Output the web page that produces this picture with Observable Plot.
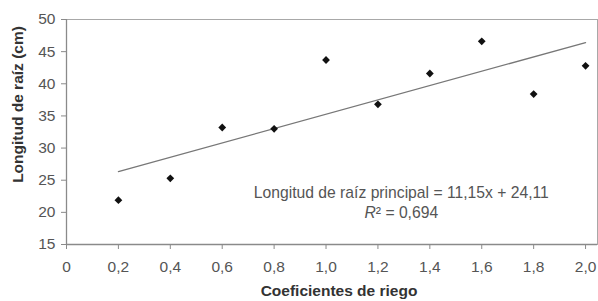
<!DOCTYPE html>
<html>
<head>
<meta charset="utf-8">
<script src="https://cdn.jsdelivr.net/npm/d3@7"></script>
<script src="https://cdn.jsdelivr.net/npm/@observablehq/plot@0.6"></script>
<style>
  html, body { margin: 0; padding: 0; background: #fff; }
  #chart { width: 598px; height: 301px; }
</style>
</head>
<body>
<div id="chart"></div>
<script>
// Data
const coefRiego = [0.2, 0.4, 0.6, 0.8, 1.0, 1.2, 1.4, 1.6, 1.8, 2.0];
const longitudRaiz = [21.9, 25.3, 33.2, 33.0, 43.7, 36.8, 41.6, 46.6, 38.4, 42.8];
// Trend line as printed: y = 11,15x + 24,11
const slope = 11.15;
const intercept = 24.11;
const xTicks = [0, 0.2, 0.4, 0.6, 0.8, 1.0, 1.2, 1.4, 1.6, 1.8, 2.0];
const yTicks = [15, 20, 25, 30, 35, 40, 45, 50];
const xTitle = "Coeficientes de riego";
const yTitle = "Longitud de raíz (cm)";
const eqLabel = "Longitud de raíz principal = 11,15x + 24,11";
const r2Label = "R² = 0,694";
const annotX = [1.29, 1.29];
const annotY = [23.0, 19.9];

const points = coefRiego.map((x, i) => ({x, y: longitudRaiz[i]}));
const trend = [coefRiego[0], coefRiego[coefRiego.length - 1]].map(x => ({x, y: slope * x + intercept}));
const annots = [eqLabel, r2Label].map((t, i) => ({x: annotX[i], y: annotY[i], t}));
const fmt = d => d === 0 ? "0" : d.toFixed(1).replace(".", ",");

const chart = Plot.plot({
  width: 598,
  height: 301,
  marginLeft: 66,
  marginRight: 1,
  marginTop: 19,
  marginBottom: 57,
  style: {fontFamily: "'Liberation Sans', Arial, sans-serif", fontSize: "15.5px", background: "#fff"},
  x: {domain: [0, 2.046]},
  y: {domain: [15, 50]},
  marks: [
    Plot.frame({stroke: "#a8a8a8"}),
    Plot.ruleY([15], {stroke: "#8a8a8a", strokeWidth: 1.3}),
    Plot.ruleX([0], {stroke: "#8a8a8a", strokeWidth: 1.3}),
    Plot.axisX({ticks: xTicks, tickFormat: fmt, tickSize: 5, tickPadding: 11, stroke: "#8a8a8a", fill: "#555", fontSize: 15.5, label: null}),
    Plot.axisY({ticks: yTicks, tickSize: 5, tickPadding: 6, stroke: "#8a8a8a", fill: "#555", fontSize: 15.5, label: null}),
    Plot.line(trend, {x: "x", y: "y", stroke: "#777", strokeWidth: 1.3}),
    Plot.dot(points, {x: "x", y: "y", symbol: "square", rotate: 45, r: 3.1, fill: "#111", stroke: "none"}),
    Plot.text(annots, {x: "x", y: "y", text: "t", fill: "#555", fontSize: 15.7, textAnchor: "middle", className: "annot"}),
    Plot.text([xTitle], {frameAnchor: "bottom", text: d => d, dx: 7, dy: 51, fontWeight: "bold", fill: "#333", fontSize: 15.5}),
    Plot.text([yTitle], {frameAnchor: "left", textAnchor: "middle", text: d => d, fontWeight: "bold", fill: "#333", fontSize: 15.5, className: "ytitle"})
  ]
});

// Position the rotated y-axis title
d3.select(chart).selectAll("g.ytitle text")
  .attr("x", null).attr("y", null)
  .attr("text-anchor", "middle")
  .attr("transform", "translate(22,104) rotate(-90)");

// Italicise the "R" in the R² label
d3.select(chart).selectAll("g.annot text").each(function() {
  const el = d3.select(this);
  const s = el.text();
  if (s.startsWith("R")) {
    el.text("");
    el.append("tspan").attr("font-style", "italic").text("R");
    el.append("tspan").text(s.slice(1));
  }
});

document.getElementById("chart").appendChild(chart);
</script>
</body>
</html>
